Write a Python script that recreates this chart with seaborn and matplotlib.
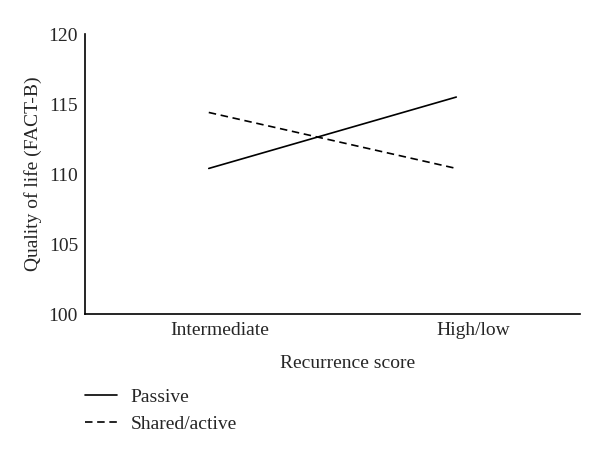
import pandas as pd
import matplotlib.pyplot as plt
import seaborn as sns

# ── data ─────────────────────────────────────────────────────────────────────
scores  = ['Intermediate', 'High/low']
passive = [110.4, 115.5]
shared  = [114.4, 110.4]

df = pd.DataFrame({
    'x': [0, 1, 0, 1],
    'qol': passive + shared,
    'group': ['Passive'] * 2 + ['Shared/active'] * 2,
})

# ── plot ─────────────────────────────────────────────────────────────────────
sns.set_style('white')
plt.rcParams['font.family'] = ['Liberation Serif', 'DejaVu Serif']
FS = 14

fig = plt.figure(figsize=(6, 4.53), dpi=100)
ax = fig.add_axes([0.1417, 0.3068, 0.825, 0.618])

sns.lineplot(data=df, x='x', y='qol', style='group', color='black',
             dashes={'Passive': '', 'Shared/active': (4.5, 2.8)},
             linewidth=1.2, ax=ax, legend=True)

ax.set_xlim(-0.5, 1.5)
ax.set_ylim(100, 120)
ax.set_yticks([100, 105, 110, 115, 120])
# tick labels sit slightly right of the line ends in the original
ax.set_xticks([0.045, 1.07])
ax.set_xticklabels(scores)
ax.tick_params(axis='x', length=0, labelsize=FS, pad=6)
ax.tick_params(axis='y', length=0, labelsize=FS, pad=5)
ax.set_xlabel('Recurrence score', fontsize=FS)
ax.xaxis.set_label_coords(0.53, -0.145)
ax.set_ylabel('Quality of life (FACT-B)', fontsize=FS, labelpad=5)

sns.despine(ax=ax)
for s in ['left', 'bottom']:
    ax.spines[s].set_color('black')
    ax.spines[s].set_linewidth(1.2)

handles, labels = ax.get_legend_handles_labels()
ax.legend(handles, labels, loc='upper left', bbox_to_anchor=(0.1417, 0.142),
          bbox_transform=fig.transFigure, frameon=False, fontsize=FS,
          handlelength=1.65, handletextpad=0.7, labelspacing=0.45,
          borderpad=0, borderaxespad=0)

plt.savefig('out.png', dpi=100)
